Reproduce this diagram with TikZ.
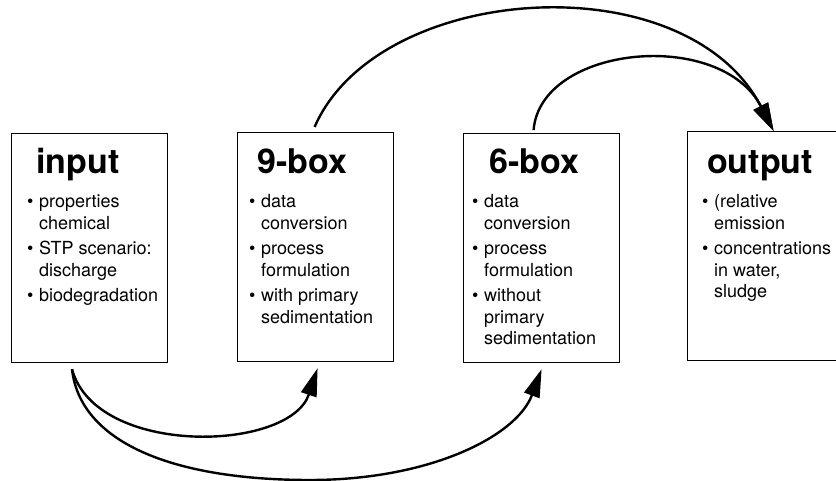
\documentclass[tikz,border=0pt]{standalone}
\usepackage{fontspec}
\setmainfont{TeX Gyre Heros}
\usetikzlibrary{arrows.meta}
\newcommand\myb{\makebox[12pt][l]{\textbullet}}
\begin{document}
\begin{tikzpicture}[x=1pt,y=-1pt,
  box/.style={draw, line width=1.2pt, inner sep=0pt, minimum width=156pt, minimum height=229pt, anchor=north west},
  ttl/.style={anchor=base west, inner sep=0pt, font=\fontsize{34}{40}\selectfont\bfseries},
  lst/.style={anchor=base west, inner sep=0pt, font=\fontsize{18}{21.5}\selectfont},
  flow/.style={line width=2.4pt, -{Triangle[length=28pt,width=16pt]}}]
\useasboundingbox (0,0) rectangle (836,481);
\clip (0,0) rectangle (836,481);
% boxes
\node[box] (in) at (11,133) {};
\node[box] (nine) at (237,132) {};
\node[box] (six) at (463,133) {};
\node[box, minimum width=172pt] (out) at (687,131) {};
% titles
\node[ttl] (inT) at (36,174) {input};
\node[ttl] (nineT) at (257,174) {9-box};
\node[ttl] (sixT) at (489,174) {6-box};
\node[ttl] (outT) at (707,174) {output};
% lists
\node[lst] (inL) at (27,208) {\begin{tabular}[t]{@{}l@{}l@{}}\myb&properties\\&chemical\\[4pt]\myb&STP scenario:\\&discharge\\[4pt]\myb&biodegradation\end{tabular}};
\node[lst] (nineL) at (249,208) {\begin{tabular}[t]{@{}l@{}l@{}}\myb&data\\&conversion\\[4pt]\myb&process\\&formulation\\[4pt]\myb&with primary\\&sedimentation\end{tabular}};
\node[lst] (sixL) at (472,208) {\begin{tabular}[t]{@{}l@{}l@{}}\myb&data\\&conversion\\[4pt]\myb&process\\&formulation\\[4pt]\myb&without\\&primary\\&sedimentation\end{tabular}};
\node[lst] (outL) at (702,208) {\begin{tabular}[t]{@{}l@{}l@{}}\myb&(relative\\&emission\\[4pt]\myb&concentrations\\&in water,\\&sludge\end{tabular}};
% connectors
\draw[flow] ([xshift=61pt,yshift=-6pt]in.south west) .. controls +(24,88) and +(-28,84) .. ([xshift=2pt,yshift=-6pt]nine.south);
\draw[flow] ([xshift=61pt,yshift=-6pt]in.south west) .. controls +(8,72) and (170,480) .. (310,480) .. controls (430,480) and +(-25,67) .. ([yshift=-6pt]six.south);
\draw[flow] ([xshift=-1pt,yshift=5pt]nine.north) .. controls +(63,-145) and +(-88,-170) .. (out.north);
\draw[flow] ([xshift=-8pt,yshift=3pt]six.north) .. controls +(7,-85) and +(-53,-103) .. (out.north);
\end{tikzpicture}
\end{document}
